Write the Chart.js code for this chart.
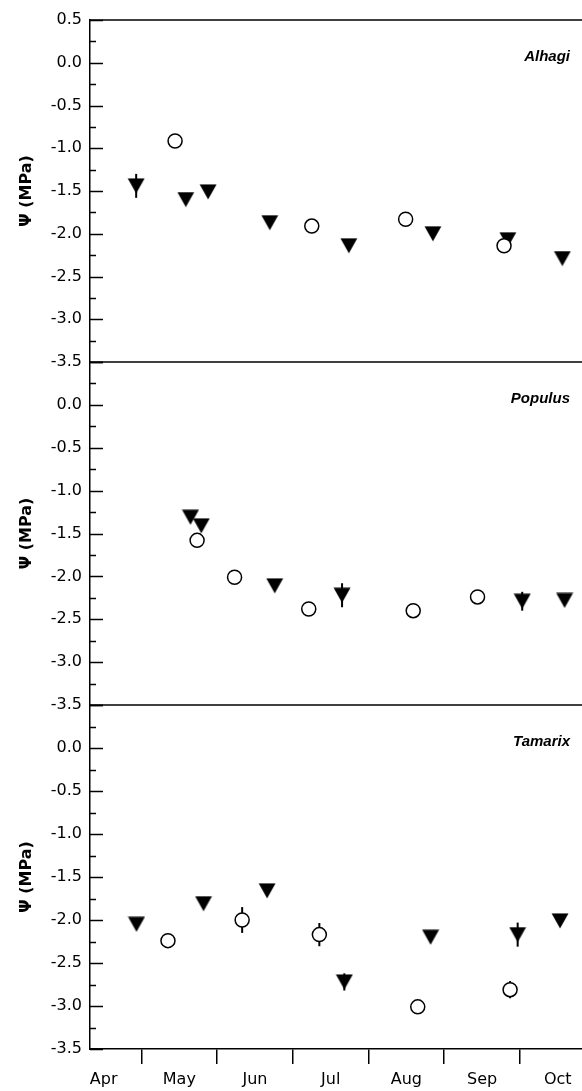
<!DOCTYPE html>
<html>
<head>
<meta charset="utf-8">
<script src="https://cdn.jsdelivr.net/npm/chart.js@4/dist/chart.umd.min.js"></script>
<style>
  html, body { margin: 0; padding: 0; background: #fff; }
  #wrap { position: relative; width: 582px; height: 1091px; overflow: hidden; }
  canvas { position: absolute; left: 0; }
</style>
</head>
<body>
<div id="wrap">
  <canvas id="p1" width="582" height="372" style="top:0px"></canvas>
  <canvas id="p2" width="582" height="363" style="top:352px"></canvas>
  <canvas id="p3" width="582" height="396" style="top:695px"></canvas>
</div>
<script>
// x in months from 1 Apr (0 = 1 Apr, 1 = 1 May, ...)
const monthLabels = ['Apr', 'May', 'Jun', 'Jul', 'Aug', 'Sep', 'Oct'];
const monthStarts = [1, 2, 3, 4, 5, 6];
const yTickValues = [-3.5, -3.25, -3, -2.75, -2.5, -2.25, -2, -1.75, -1.5, -1.25, -1, -0.75, -0.5, -0.25, 0, 0.25, 0.5];
const xMin = 0.32, xMax = 6.82;

// Alhagi
const alhagiTriX = [0.93, 1.585, 1.88, 2.695, 3.74, 4.85, 5.84, 6.56];
const alhagiTriY = [-1.44, -1.60, -1.51, -1.87, -2.14, -2.00, -2.07, -2.29];
const alhagiTriErr = [0.14, 0.05, 0, 0, 0, 0.04, 0.03, 0];
const alhagiCirX = [1.444, 3.25, 4.49, 5.79];
const alhagiCirY = [-0.915, -1.91, -1.83, -2.14];
const alhagiCirErr = [0, 0, 0, 0];

// Populus
const populusTriX = [1.647, 1.79, 2.76, 3.65, 6.03, 6.59];
const populusTriY = [-1.31, -1.41, -2.11, -2.22, -2.29, -2.28];
const populusTriErr = [0.04, 0, 0, 0.14, 0.11, 0];
const populusCirX = [1.735, 2.23, 3.21, 4.59, 5.44];
const populusCirY = [-1.58, -2.01, -2.38, -2.40, -2.24];
const populusCirErr = [0, 0, 0, 0, 0];

// Tamarix
const tamarixTriX = [0.934, 1.82, 2.66, 3.68, 4.82, 5.97, 6.53];
const tamarixTriY = [-2.05, -1.81, -1.66, -2.72, -2.20, -2.17, -2.01];
const tamarixTriErr = [0, 0, 0, 0.1, 0.05, 0.14, 0.05];
const tamarixCirX = [1.35, 2.33, 3.35, 4.65, 5.87];
const tamarixCirY = [-2.24, -2.0, -2.17, -3.01, -2.81];
const tamarixCirErr = [0, 0.15, 0.135, 0, 0.1];

Chart.defaults.font.family = 'DejaVu Sans';
Chart.defaults.font.size = 16;
Chart.defaults.color = '#000';

// filled down triangle marker
const tri = document.createElement('canvas');
tri.width = 18; tri.height = 16;
const tctx = tri.getContext('2d');
tctx.fillStyle = '#000';
tctx.beginPath();
tctx.moveTo(0.5, 0.5); tctx.lineTo(17.5, 0.5); tctx.lineTo(9, 15.5);
tctx.closePath();
tctx.fill();

const isHalf = v => Math.abs(v * 2 - Math.round(v * 2)) < 1e-6;

const framePlugin = {
  id: 'frame',
  beforeDatasetsDraw(chart, args, opts) {
    const { ctx, chartArea: a, scales } = chart;
    const ys = scales.y;
    ctx.save();
    ctx.strokeStyle = '#000';
    ctx.lineWidth = 1.5;
    // inward y ticks
    ys.ticks.forEach(t => {
      const py = Math.round(ys.getPixelForValue(t.value)) + 0.5;
      ctx.beginPath();
      ctx.moveTo(a.left, py);
      ctx.lineTo(a.left + (isHalf(t.value) ? 13 : 6), py);
      ctx.stroke();
    });
    if (opts.top) {
      ctx.beginPath(); ctx.moveTo(a.left, a.top); ctx.lineTo(a.right, a.top); ctx.stroke();
    }
    if (opts.bottom) {
      ctx.beginPath(); ctx.moveTo(a.left, a.bottom); ctx.lineTo(a.right, a.bottom); ctx.stroke();
    }
    // error bars
    ctx.lineWidth = 2;
    chart.data.datasets.forEach(ds => {
      ds.data.forEach((p, i) => {
        const e = ds.err[i];
        if (!e) return;
        const px = scales.x.getPixelForValue(p.x);
        ctx.beginPath();
        ctx.moveTo(px, ys.getPixelForValue(p.y + e));
        ctx.lineTo(px, ys.getPixelForValue(p.y - e));
        ctx.stroke();
      });
    });
    ctx.restore();
  },
  afterDraw(chart, args, opts) {
    const { ctx, chartArea: a } = chart;
    ctx.save();
    ctx.font = 'italic bold 15px "Liberation Sans"';
    ctx.fillStyle = '#000';
    ctx.textAlign = 'right';
    ctx.textBaseline = 'middle';
    ctx.fillText(opts.name, 570, a.top + 37);
    ctx.restore();
  }
};

function makePanel(id, name, triX, triY, triErr, cirX, cirY, cirErr, cfg) {
  const xScale = cfg.last ? {
    type: 'linear', min: xMin, max: xMax,
    afterBuildTicks: s => {
      const t = [];
      monthLabels.forEach((m, i) => { t.push({ value: i + 0.5 }); });
      monthStarts.forEach(v => t.push({ value: v }));
      t.sort((p, q) => p.value - q.value);
      s.ticks = t;
    },
    afterFit: s => { s.height = 42; s.paddingLeft = 0; s.paddingRight = 0; },
    ticks: {
      autoSkip: false, maxRotation: 0, padding: 6,
      callback: v => Number.isInteger(v) ? '' : monthLabels[Math.floor(v)]
    },
    grid: {
      display: true, drawOnChartArea: false, drawTicks: true, tickLength: 15, lineWidth: 1.5,
      color: c => Number.isInteger(c.tick.value) ? '#000' : 'rgba(0,0,0,0)'
    },
    border: { display: true, color: '#000', width: 1.5 }
  } : { type: 'linear', min: xMin, max: xMax, display: false };

  return new Chart(document.getElementById(id), {
    type: 'scatter',
    data: {
      datasets: [
        {
          data: cirX.map((x, i) => ({ x, y: cirY[i] })),
          err: cirErr,
          pointStyle: 'circle', pointRadius: 7, pointBorderWidth: 1.5,
          pointBorderColor: '#000', pointBackgroundColor: '#fff'
        },
        {
          data: triX.map((x, i) => ({ x, y: triY[i] })),
          err: triErr,
          pointStyle: tri, pointRadius: 9
        }
      ]
    },
    options: {
      responsive: false, animation: false, devicePixelRatio: 1,
      layout: { autoPadding: false, padding: { top: cfg.padTop, bottom: cfg.padBottom, left: 0, right: 0 } },
      plugins: {
        legend: { display: false }, tooltip: { enabled: false },
        frame: { name, top: cfg.top, bottom: cfg.bottom }
      },
      scales: {
        x: xScale,
        y: {
          type: 'linear', min: -3.5, max: 0.5,
          afterBuildTicks: s => { s.ticks = yTickValues.map(v => ({ value: v })); },
          afterFit: s => { s.width = 90; s.paddingTop = 0; s.paddingBottom = 0; },
          ticks: {
            autoSkip: false, padding: 8,
            callback: v => (isHalf(v) && !(cfg.hideTop && v === 0.5)) ? v.toFixed(1) : ''
          },
          grid: { display: false, drawTicks: false },
          border: { display: true, color: '#000', width: 1.5 },
          title: { display: true, text: 'Ψ (MPa)', font: { weight: 'bold', size: 16 }, padding: { top: 17, bottom: 0 } }
        }
      }
    },
    plugins: [framePlugin]
  });
}

makePanel('p1', 'Alhagi', alhagiTriX, alhagiTriY, alhagiTriErr, alhagiCirX, alhagiCirY, alhagiCirErr,
  { padTop: 20, padBottom: 10, top: true, bottom: true, hideTop: false, last: false });
makePanel('p2', 'Populus', populusTriX, populusTriY, populusTriErr, populusCirX, populusCirY, populusCirErr,
  { padTop: 10, padBottom: 10, top: false, bottom: true, hideTop: true, last: false });
makePanel('p3', 'Tamarix', tamarixTriX, tamarixTriY, tamarixTriErr, tamarixCirX, tamarixCirY, tamarixCirErr,
  { padTop: 10, padBottom: 0, top: false, bottom: false, hideTop: true, last: true });
</script>
</body>
</html>
